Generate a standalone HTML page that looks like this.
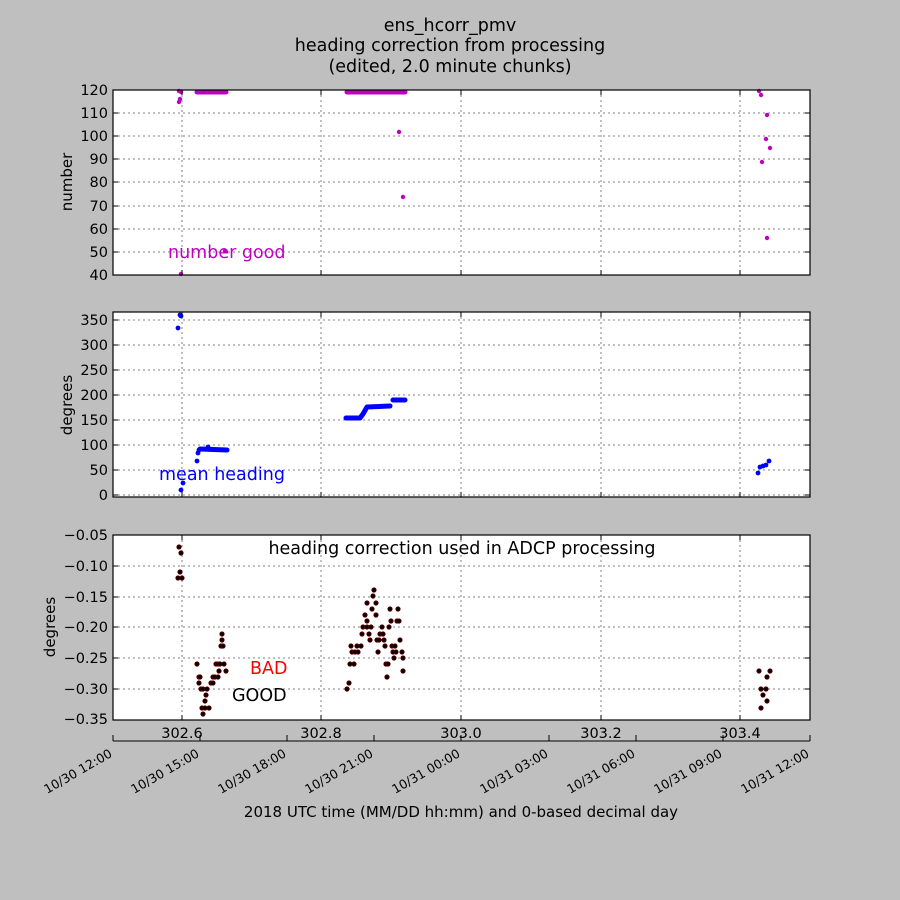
<!DOCTYPE html>
<html><head><meta charset="utf-8"><style>
html,body{margin:0;padding:0;background:#bfbfbf}
svg{display:block;font-family:"DejaVu Sans","Liberation Sans",sans-serif}
.g{stroke:#808080;stroke-width:1;stroke-dasharray:2,3}
.t{font-size:15px;fill:#000}
.y{font-size:14.5px;fill:#000}
.m circle{fill:#c000c0}
.b circle{fill:#0000ff}
.k circle{fill:#000;stroke:#600;stroke-width:0.8}
</style></head><body>
<svg width="900" height="900" viewBox="0 0 900 900" xmlns="http://www.w3.org/2000/svg">
<text x="450" y="31" font-size="17.5" text-anchor="middle">ens_hcorr_pmv</text>
<text x="450" y="51" font-size="17.5" text-anchor="middle">heading correction from processing</text>
<text x="450" y="72" font-size="17.5" text-anchor="middle">(edited, 2.0 minute chunks)</text>

<!-- Panel 1 -->
<rect x="113" y="90" width="697" height="185" fill="#fff"/>
<g class="g">
<line x1="113" x2="810" y1="113" y2="113"/><line x1="113" x2="810" y1="136" y2="136"/><line x1="113" x2="810" y1="159" y2="159"/><line x1="113" x2="810" y1="182" y2="182"/><line x1="113" x2="810" y1="206" y2="206"/><line x1="113" x2="810" y1="229" y2="229"/><line x1="113" x2="810" y1="252" y2="252"/>
<line x1="182" x2="182" y1="90" y2="275"/><line x1="321" x2="321" y1="90" y2="275"/><line x1="461" x2="461" y1="90" y2="275"/><line x1="601" x2="601" y1="90" y2="275"/><line x1="740" x2="740" y1="90" y2="275"/>
</g>
<g class="y" text-anchor="end">
<text x="108" y="95">120</text><text x="108" y="118">110</text><text x="108" y="141">100</text><text x="108" y="164">90</text><text x="108" y="187">80</text><text x="108" y="211">70</text><text x="108" y="234">60</text><text x="108" y="257">50</text><text x="108" y="280">40</text>
</g>
<text transform="translate(72,182) rotate(-90)" class="t" text-anchor="middle">number</text>
<g class="m">
<circle cx="179" cy="91" r="2.2"/><circle cx="181" cy="92" r="2.2"/><circle cx="180" cy="99" r="2.2"/><circle cx="179" cy="102" r="2.2"/><circle cx="181" cy="274" r="2.2"/>
<circle cx="225" cy="251" r="2.2"/><circle cx="399" cy="132" r="2.2"/><circle cx="403" cy="197" r="2.2"/>
<circle cx="759" cy="91" r="2.2"/><circle cx="761" cy="95" r="2.2"/><circle cx="767" cy="115" r="2.2"/><circle cx="766" cy="139" r="2.2"/><circle cx="770" cy="148" r="2.2"/><circle cx="762" cy="162" r="2.2"/><circle cx="767" cy="238" r="2.2"/>
</g>
<line x1="197" x2="226" y1="92" y2="92" stroke="#c000c0" stroke-width="5" stroke-linecap="round"/>
<line x1="347" x2="405" y1="92" y2="92" stroke="#c000c0" stroke-width="5" stroke-linecap="round"/>
<text x="168" y="258" font-size="17.5" fill="#c000c0">number good</text>
<rect x="113" y="90" width="697" height="185" fill="none" stroke="#000" stroke-width="1.2"/>

<!-- Panel 2 -->
<rect x="113" y="312" width="697" height="185" fill="#fff"/>
<g class="g">
<line x1="113" x2="810" y1="320" y2="320"/><line x1="113" x2="810" y1="345" y2="345"/><line x1="113" x2="810" y1="370" y2="370"/><line x1="113" x2="810" y1="395" y2="395"/><line x1="113" x2="810" y1="420" y2="420"/><line x1="113" x2="810" y1="445" y2="445"/><line x1="113" x2="810" y1="470" y2="470"/><line x1="113" x2="810" y1="495" y2="495"/>
<line x1="182" x2="182" y1="312" y2="497"/><line x1="321" x2="321" y1="312" y2="497"/><line x1="461" x2="461" y1="312" y2="497"/><line x1="601" x2="601" y1="312" y2="497"/><line x1="740" x2="740" y1="312" y2="497"/>
</g>
<g class="y" text-anchor="end">
<text x="108" y="325">350</text><text x="108" y="350">300</text><text x="108" y="375">250</text><text x="108" y="400">200</text><text x="108" y="425">150</text><text x="108" y="450">100</text><text x="108" y="475">50</text><text x="108" y="500">0</text>
</g>
<text transform="translate(72,405) rotate(-90)" class="t" text-anchor="middle">degrees</text>
<g class="b">
<circle cx="180" cy="315" r="2.4"/><circle cx="181" cy="316" r="2.4"/><circle cx="178" cy="328" r="2.4"/><circle cx="183" cy="483" r="2.4"/><circle cx="181" cy="490" r="2.4"/>
<circle cx="197" cy="461" r="2.4"/><circle cx="198" cy="453" r="2.4"/><circle cx="199" cy="450" r="2.4"/><circle cx="208" cy="447" r="2.4"/>
<circle cx="758" cy="473" r="2.4"/><circle cx="760" cy="467" r="2.4"/><circle cx="763" cy="466" r="2.4"/><circle cx="766" cy="465" r="2.4"/><circle cx="769" cy="461" r="2.4"/>
</g>
<polyline points="200,449 227,450" fill="none" stroke="#00f" stroke-width="5" stroke-linecap="round"/>
<polyline points="346,418 360,418 363,414 367,407 390,406" fill="none" stroke="#00f" stroke-width="5" stroke-linecap="round" stroke-linejoin="round"/>
<polyline points="393,400 405,400" fill="none" stroke="#00f" stroke-width="5" stroke-linecap="round"/>
<text x="159" y="480" font-size="17.5" fill="#0000ff">mean heading</text>
<rect x="113" y="312" width="697" height="185" fill="none" stroke="#000" stroke-width="1.2"/>

<!-- Panel 3 -->
<rect x="113" y="535" width="697" height="185" fill="#fff"/>
<g class="g">
<line x1="113" x2="810" y1="566" y2="566"/><line x1="113" x2="810" y1="597" y2="597"/><line x1="113" x2="810" y1="627" y2="627"/><line x1="113" x2="810" y1="658" y2="658"/><line x1="113" x2="810" y1="689" y2="689"/>
<line x1="182" x2="182" y1="535" y2="720"/><line x1="321" x2="321" y1="535" y2="720"/><line x1="461" x2="461" y1="535" y2="720"/><line x1="601" x2="601" y1="535" y2="720"/><line x1="740" x2="740" y1="535" y2="720"/>
</g>
<g class="y" text-anchor="end">
<text x="108" y="540">−0.05</text><text x="108" y="571">−0.10</text><text x="108" y="602">−0.15</text><text x="108" y="632">−0.20</text><text x="108" y="663">−0.25</text><text x="108" y="694">−0.30</text><text x="108" y="724">−0.35</text>
</g>
<text transform="translate(55,627) rotate(-90)" class="t" text-anchor="middle">degrees</text>
<g class="k">
<circle cx="179" cy="547" r="2.2"/><circle cx="181" cy="553" r="2.2"/><circle cx="180" cy="572" r="2.2"/><circle cx="178" cy="578" r="2.2"/><circle cx="182" cy="578" r="2.2"/>
<circle cx="197" cy="664" r="2.2"/><circle cx="199" cy="677" r="2.2"/><circle cx="200" cy="677" r="2.2"/><circle cx="199" cy="683" r="2.2"/><circle cx="201" cy="689" r="2.2"/><circle cx="203" cy="689" r="2.2"/><circle cx="207" cy="689" r="2.2"/><circle cx="206" cy="695" r="2.2"/><circle cx="205" cy="701" r="2.2"/><circle cx="202" cy="708" r="2.2"/><circle cx="205" cy="708" r="2.2"/><circle cx="209" cy="708" r="2.2"/><circle cx="203" cy="714" r="2.2"/>
<circle cx="211" cy="683" r="2.2"/><circle cx="213" cy="683" r="2.2"/><circle cx="213" cy="677" r="2.2"/><circle cx="215" cy="677" r="2.2"/><circle cx="218" cy="677" r="2.2"/><circle cx="216" cy="664" r="2.2"/><circle cx="218" cy="664" r="2.2"/><circle cx="220" cy="664" r="2.2"/><circle cx="224" cy="664" r="2.2"/><circle cx="219" cy="671" r="2.2"/><circle cx="226" cy="671" r="2.2"/><circle cx="221" cy="646" r="2.2"/><circle cx="223" cy="646" r="2.2"/><circle cx="222" cy="640" r="2.2"/><circle cx="222" cy="634" r="2.2"/>
<circle cx="374" cy="590" r="2.2"/><circle cx="373" cy="596" r="2.2"/><circle cx="367" cy="603" r="2.2"/><circle cx="376" cy="603" r="2.2"/><circle cx="372" cy="609" r="2.2"/><circle cx="390" cy="609" r="2.2"/><circle cx="398" cy="609" r="2.2"/><circle cx="365" cy="615" r="2.2"/><circle cx="376" cy="615" r="2.2"/><circle cx="367" cy="621" r="2.2"/><circle cx="391" cy="621" r="2.2"/><circle cx="397" cy="621" r="2.2"/><circle cx="399" cy="621" r="2.2"/>
<circle cx="363" cy="627" r="2.2"/><circle cx="367" cy="627" r="2.2"/><circle cx="371" cy="627" r="2.2"/><circle cx="382" cy="627" r="2.2"/><circle cx="389" cy="627" r="2.2"/><circle cx="362" cy="634" r="2.2"/><circle cx="369" cy="634" r="2.2"/><circle cx="380" cy="634" r="2.2"/><circle cx="383" cy="634" r="2.2"/>
<circle cx="370" cy="640" r="2.2"/><circle cx="377" cy="640" r="2.2"/><circle cx="379" cy="640" r="2.2"/><circle cx="384" cy="640" r="2.2"/><circle cx="400" cy="640" r="2.2"/><circle cx="351" cy="646" r="2.2"/><circle cx="357" cy="646" r="2.2"/><circle cx="361" cy="646" r="2.2"/><circle cx="385" cy="646" r="2.2"/><circle cx="392" cy="646" r="2.2"/><circle cx="395" cy="646" r="2.2"/>
<circle cx="352" cy="652" r="2.2"/><circle cx="355" cy="652" r="2.2"/><circle cx="358" cy="652" r="2.2"/><circle cx="378" cy="652" r="2.2"/><circle cx="393" cy="652" r="2.2"/><circle cx="396" cy="652" r="2.2"/><circle cx="402" cy="652" r="2.2"/><circle cx="394" cy="658" r="2.2"/><circle cx="403" cy="658" r="2.2"/>
<circle cx="350" cy="664" r="2.2"/><circle cx="354" cy="664" r="2.2"/><circle cx="386" cy="664" r="2.2"/><circle cx="388" cy="664" r="2.2"/><circle cx="403" cy="671" r="2.2"/><circle cx="387" cy="677" r="2.2"/><circle cx="349" cy="683" r="2.2"/><circle cx="347" cy="689" r="2.2"/>
<circle cx="759" cy="671" r="2.2"/><circle cx="761" cy="689" r="2.2"/><circle cx="763" cy="695" r="2.2"/><circle cx="766" cy="689" r="2.2"/><circle cx="767" cy="677" r="2.2"/><circle cx="770" cy="671" r="2.2"/><circle cx="761" cy="708" r="2.2"/><circle cx="767" cy="701" r="2.2"/>
</g>
<text x="462" y="554" font-size="17.5" text-anchor="middle">heading correction used in ADCP processing</text>
<text x="250" y="674" font-size="17.5" fill="#ff0000">BAD</text>
<text x="232" y="701" font-size="17.5">GOOD</text>
<rect x="113" y="535" width="697" height="185" fill="none" stroke="#000" stroke-width="1.2"/>

<!-- inner ticks -->
<g stroke="#000" stroke-width="1">
<path d="M113,113h5M113,136h5M113,159h5M113,182h5M113,206h5M113,229h5M113,252h5M810,113h-5M810,136h-5M810,159h-5M810,182h-5M810,206h-5M810,229h-5M810,252h-5"/>
<path d="M113,320h5M113,345h5M113,370h5M113,395h5M113,420h5M113,445h5M113,470h5M113,495h5M810,320h-5M810,345h-5M810,370h-5M810,395h-5M810,420h-5M810,445h-5M810,470h-5M810,495h-5"/>
<path d="M113,566h5M113,597h5M113,627h5M113,658h5M113,689h5M810,566h-5M810,597h-5M810,627h-5M810,658h-5M810,689h-5"/>
<path d="M182,90v5M321,90v5M461,90v5M601,90v5M740,90v5M182,275v-5M321,275v-5M461,275v-5M601,275v-5M740,275v-5"/>
<path d="M182,312v5M321,312v5M461,312v5M601,312v5M740,312v5M182,497v-5M321,497v-5M461,497v-5M601,497v-5M740,497v-5"/>
<path d="M182,535v5M321,535v5M461,535v5M601,535v5M740,535v5M182,720v-5M321,720v-5M461,720v-5M601,720v-5M740,720v-5"/>
</g>
<g class="y" text-anchor="middle">
<text x="182" y="738">302.6</text><text x="321" y="738">302.8</text><text x="461" y="738">303.0</text><text x="601" y="738">303.2</text><text x="740" y="738">303.4</text>
</g>

<!-- secondary date axis -->
<line x1="113" x2="810" y1="741" y2="741" stroke="#000" stroke-width="1"/>
<path stroke="#000" stroke-width="1" d="M113,741v-6M200,741v-6M287,741v-6M374,741v-6M461,741v-6M549,741v-6M636,741v-6M723,741v-6M810,741v-6"/>
<g font-size="12.5" text-anchor="end">
<text transform="translate(113,756) rotate(-30)">10/30 12:00</text>
<text transform="translate(200,756) rotate(-30)">10/30 15:00</text>
<text transform="translate(287,756) rotate(-30)">10/30 18:00</text>
<text transform="translate(374,756) rotate(-30)">10/30 21:00</text>
<text transform="translate(461,756) rotate(-30)">10/31 00:00</text>
<text transform="translate(549,756) rotate(-30)">10/31 03:00</text>
<text transform="translate(636,756) rotate(-30)">10/31 06:00</text>
<text transform="translate(723,756) rotate(-30)">10/31 09:00</text>
<text transform="translate(810,756) rotate(-30)">10/31 12:00</text>
</g>
<text x="461" y="817" class="t" text-anchor="middle">2018 UTC time (MM/DD hh:mm) and 0-based decimal day</text>
</svg>
</body></html>
